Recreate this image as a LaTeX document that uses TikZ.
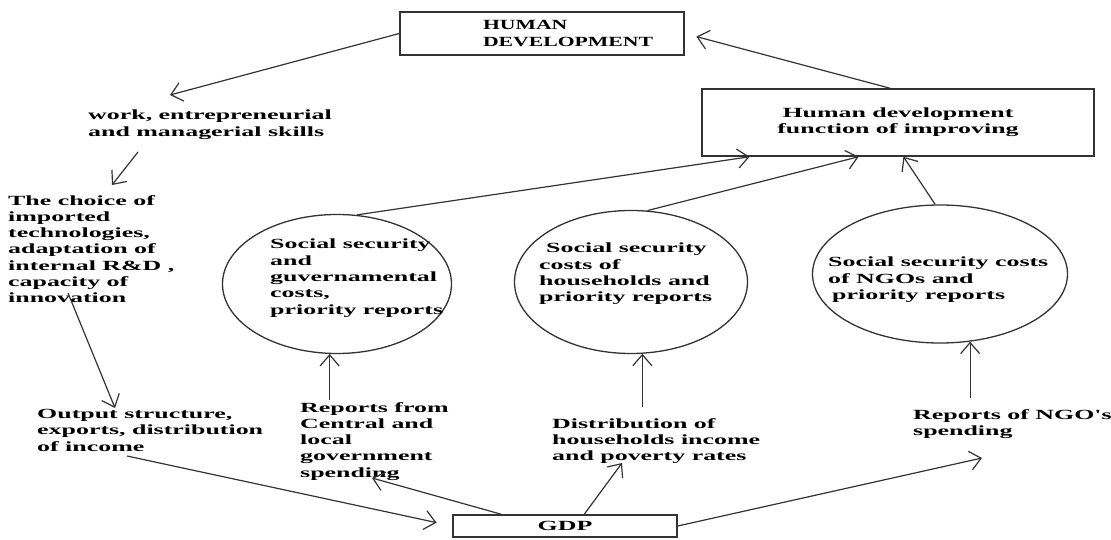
\documentclass[tikz,border=0pt]{standalone}
\usepackage{fontspec}
\newfontfamily\diagfont{Liberation Serif}[FakeStretch=1.85]
\newfontfamily\capsfont{Liberation Serif}[FakeStretch=1.55]
\usetikzlibrary{shapes.geometric, arrows.meta, calc}
\tikzstyle{box_node} = [rectangle, draw=black!80, line width=1.5pt, inner sep=2pt, font=\diagfont\bfseries\fontsize{14}{16.3}\selectfont]
\tikzstyle{ring_node} = [ellipse, draw=black!80, line width=1.3pt, inner sep=0pt]
\tikzstyle{text_node} = [anchor=north west, inner sep=2pt, align=left, font=\diagfont\bfseries\fontsize{14}{16.3}\selectfont]
\tikzstyle{flow_arrow} = [line width=1.2pt, draw=black!80, -{Straight Barb[length=11pt, width=19pt]}]

\begin{document}
\begin{tikzpicture}[x=1pt, y=-1pt]
\useasboundingbox (0,0) rectangle (1111,540);

\node (hd_box) [box_node, minimum width=284pt, minimum height=43pt, align=left, font=\capsfont\bfseries\fontsize{14}{16.3}\selectfont] at (542,33.5) {\hspace*{52pt}HUMAN\\\hspace*{52pt}DEVELOPMENT};
\node (func_box) [box_node, minimum width=392pt, minimum height=67pt, align=center] at (898,122.5) {Human development\\function of improving};
\node (gdp_box) [box_node, minimum width=224pt, minimum height=22pt] at (565,526) {GDP};

\node (circ_gov) [ring_node, minimum width=229pt, minimum height=139pt] at (337,284) {};
\node (circ_hh) [ring_node, minimum width=233pt, minimum height=143pt] at (631,282) {};
\node (circ_ngo) [ring_node, minimum width=255pt, minimum height=138pt] at (940,274) {};

\node (gov_text) [text_node] at (268,237) {Social security\\and\\guvernamental\\costs,\\priority reports};
\node (hh_text) [text_node] at (537,241) {\hspace*{7pt}Social security\\costs of\\households and\\priority reports};
\node (ngo_circ_text) [text_node] at (826,255) {Social security costs\\of NGOs and\\\hspace*{4pt}priority reports};

\node (skills_text) [text_node] at (86,108) {work, entrepreneurial\\and managerial skills};
\node (choice_text) [text_node] at (6,193) {The choice of\\imported\\technologies,\\adaptation of\\internal R\&D ,\\capacity of\\innovation};
\node (output_text) [text_node] at (35,407) {Output structure,\\exports, distribution\\of income};
\node (rep_text) [text_node] at (298,400) {Reports from\\Central and\\local\\government\\spending};
\node (dist_text) [text_node] at (550,416) {Distribution of\\households income\\and poverty rates};
\node (ngo_text) [text_node] at (911,407) {Reports of NGO's\\spending};

% left chain from human development down to GDP
\draw [flow_arrow] (hd_box.west) -- ($(skills_text.north west)+(84,-13)$);
\draw [flow_arrow] ($(skills_text.north west)+(52,44)$) -- ($(choice_text.north west)+(106,-8)$);
\draw [flow_arrow] ($(choice_text.north west)+(62,100)$) -- ($(output_text.north west)+(80,1)$);
\draw [flow_arrow, shorten >=16pt] ($(output_text.north west)+(92,49)$) -- (gdp_box.west);

% GDP feeding the reports
\draw [flow_arrow] ($(gdp_box.north west)+(49,0)$) -- ($(rep_text.north west)+(74,78)$);
\draw [flow_arrow] ($(gdp_box.north west)+(132,0)$) -- ($(dist_text.north west)+(72,47)$);
\draw [flow_arrow] (gdp_box.east) -- ($(ngo_text.north west)+(71,51)$);

% reports up into the circles
\draw [flow_arrow] (rep_text.north -| circ_gov.-96) -- (circ_gov.-96);
\draw [flow_arrow, shorten <=9pt] (dist_text.north -| circ_hh.-81) -- (circ_hh.-81);
\draw [flow_arrow, shorten <=9pt] (ngo_text.north -| circ_ngo.-66) -- (circ_ngo.-66);

% circles up to the improving function
\draw [flow_arrow] (circ_gov.74) -- (func_box.-167);
\draw [flow_arrow] (circ_hh.77) -- (func_box.-139);
\draw [flow_arrow] (circ_ngo.94) -- (func_box.-81);
\draw [flow_arrow, shorten >=12pt] (func_box.103) -- (hd_box.east);
\end{tikzpicture}
\end{document}
